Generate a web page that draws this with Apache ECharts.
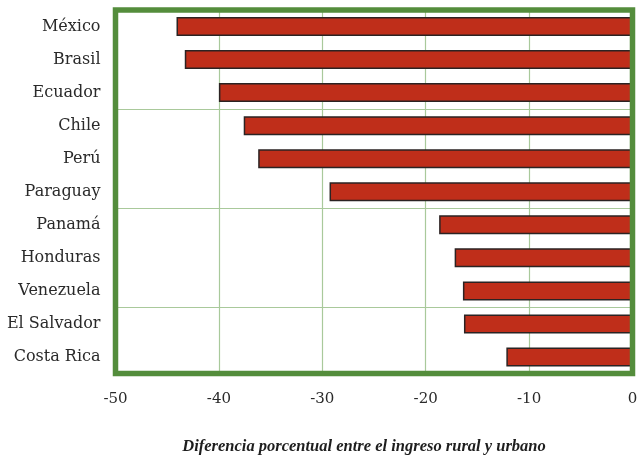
<!DOCTYPE html>
<html>
<head>
<meta charset="utf-8">
<script src="https://cdn.jsdelivr.net/npm/echarts@6/dist/echarts.min.js"></script>
<style>
  html, body { margin: 0; padding: 0; background: #fff; }
  #chart { width: 638px; height: 457px; }
</style>
</head>
<body>
<div id="chart"></div>
<script>
  // países, de arriba hacia abajo
  var countries = ['México', 'Brasil', 'Ecuador', 'Chile', 'Perú', 'Paraguay',
    'Panamá', 'Honduras', 'Venezuela', 'El Salvador', 'Costa Rica'];
  // diferencia porcentual rural vs urbano
  var gap = [-44.1, -43.3, -40.0, -37.6, -36.2, -29.3, -18.7, -17.2, -16.4, -16.3, -12.2];
  var xTicks = [-50, 0, 10];  // min, max, interval

  var myChart = echarts.init(document.getElementById('chart'));

  myChart.setOption({
    animation: false,
    grid: {
      left: 115.5, right: 5.5, top: 10, bottom: 83.5,
      outerBoundsMode: 'none',
      show: true,
      borderColor: '#548d3c',
      borderWidth: 5.5,
      backgroundColor: 'transparent',
      z: 10
    },
    xAxis: {
      type: 'value',
      min: xTicks[0],
      max: xTicks[1],
      interval: xTicks[2],
      axisLine: {show: false},
      axisTick: {show: false},
      axisLabel: {
        margin: 18,
        color: '#2a2a2a',
        fontFamily: 'DejaVu Serif',
        fontSize: 15
      },
      splitLine: {
        showMinLine: false,
        showMaxLine: false,
        lineStyle: {color: '#a9c99b', width: 1.2}
      },
      name: 'Diferencia porcentual entre el ingreso rural y urbano',
      nameLocation: 'middle',
      nameGap: 65,
      nameTextStyle: {
        color: '#1e1e1e',
        fontFamily: 'Liberation Serif',
        fontStyle: 'italic',
        fontWeight: 'bold',
        fontSize: 16.5,
        padding: [0, 20, 0, 0]
      }
    },
    yAxis: {
      type: 'category',
      data: countries,
      inverse: true,
      axisLine: {show: false},
      axisTick: {show: false},
      axisLabel: {
        margin: 15,
        color: '#2a2a2a',
        fontFamily: 'DejaVu Serif',
        fontSize: 16
      },
      splitLine: {
        show: true,
        interval: 2,
        showMinLine: false,
        showMaxLine: false,
        lineStyle: {color: '#a9c99b', width: 1.2}
      }
    },
    series: [{
      type: 'bar',
      data: gap,
      barWidth: 19,
      itemStyle: {
        color: '#bf2e1a',
        borderColor: '#2b2323',
        borderWidth: 1.5
      }
    }]
  });
</script>
</body>
</html>
